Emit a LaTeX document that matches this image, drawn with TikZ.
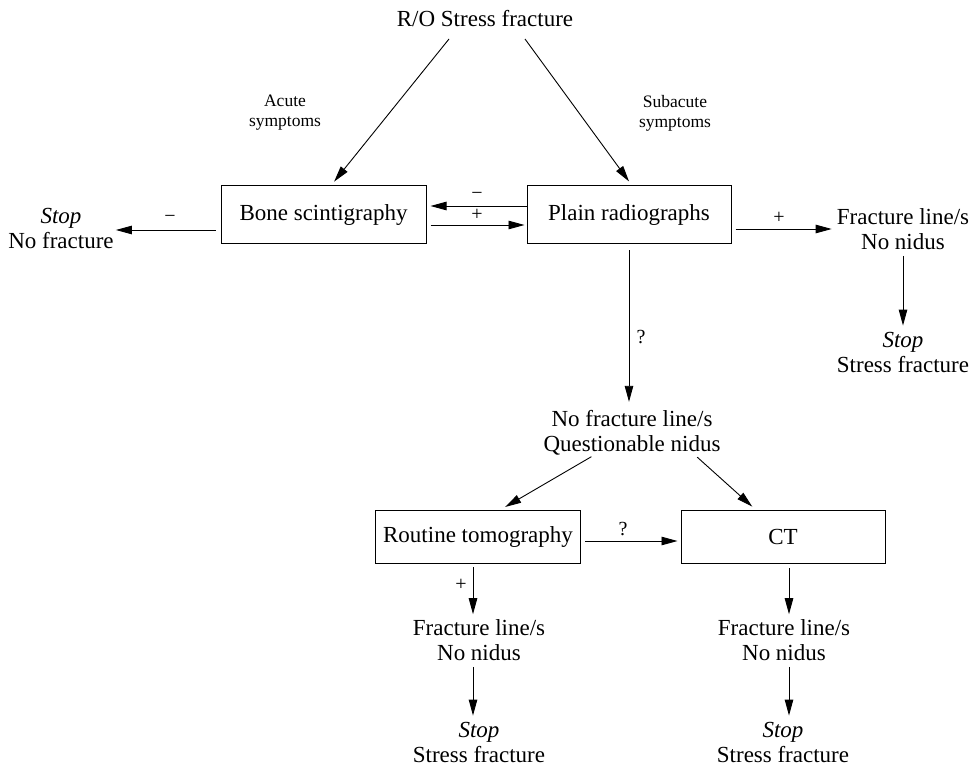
\documentclass[tikz,border=0pt]{standalone}
\usepackage{fontspec}
\setmainfont{Liberation Serif}
\usetikzlibrary{arrows.meta}
\begin{document}
\begin{tikzpicture}[x=1pt,y=-1pt,
 txt/.style={font=\fontsize{23}{25}\selectfont, align=center, inner sep=0pt},
 small/.style={font=\fontsize{17.5}{20}\selectfont, align=center, inner sep=0pt},
 sgn/.style={font=\fontsize{20}{20}\selectfont, inner sep=0pt},
 box/.style={draw, line width=1pt, font=\fontsize{23}{25}\selectfont, inner sep=0pt},
 arr/.style={-{Triangle[length=16pt,width=8.5pt]}, line width=0.9pt}]
\path[use as bounding box, fill=white] (0,0) rectangle (969,767);

\node[txt] (ro) at (485,19) {R/O Stress fracture};
\node[small] (acute) at (285,113) {Acute\\symptoms};
\node[small] (subacute) at (675,113) {Subacute\\symptoms};
\node[box, minimum width=205pt, minimum height=58pt] (bone) at (323.5,215) {Bone scintigraphy};
\node[box, minimum width=204pt, minimum height=58pt] (plain) at (629,215) {Plain radiographs};
\node[txt] (stop1) at (61,228.5) {\textit{Stop}\\No fracture};
\node[txt] (fl1) at (903,229) {Fracture line/s\\No nidus};
\node[txt] (stop2) at (903,352) {\textit{Stop}\\Stress fracture};
\node[txt] (nfl) at (632,432.5) {No fracture line/s\\Questionable nidus};
\node[box, minimum width=205pt, minimum height=53pt] (rt) at (478,537) {Routine tomography};
\node[box, minimum width=204pt, minimum height=53pt] (ct) at (783,537) {CT};
\node[txt] (fl2) at (479,640) {Fracture line/s\\No nidus};
\node[txt] (stop3) at (479,742) {\textit{Stop}\\Stress fracture};
\node[txt] (fl3) at (784,640) {Fracture line/s\\No nidus};
\node[txt] (stop4) at (783,742) {\textit{Stop}\\Stress fracture};

% sign labels
\node[sgn] (m1) at (477,196) {−};
\node[sgn] (p1) at (477,215) {+};
\node[sgn] (m2) at (170,219) {−};
\node[sgn] (p2) at (779,218) {+};
\node[sgn] (q1) at (641,337) {?};
\node[sgn] (q2) at (623,529) {?};
\node[sgn] (p3) at (461,585) {+};

% connectors
\coordinate (ro1) at (449,39);
\coordinate (ro2) at (525,39);
\draw[arr, shorten >=5pt] (ro1) -- (bone.north -| 331,0);
\draw[arr, shorten >=5pt] (ro2) -- (plain.north -| 632,0);

\draw[arr, shorten >=4pt] ([yshift=9pt]plain.west) -- ([yshift=9pt]bone.east);
\draw[arr, shorten <=4pt, shorten >=2pt] ([yshift=-10pt]bone.east) -- ([yshift=-10pt]plain.west);
\draw[arr, shorten <=5pt, shorten >=2pt] ([yshift=-15pt]bone.west) -- ([yshift=-15pt]bone.west -| stop1.east);
\draw[arr, shorten <=4pt, shorten >=5pt] ([yshift=-14pt]plain.east) -- ([yshift=-14pt]plain.east -| fl1.west);
\draw[arr, shorten <=6pt, shorten >=6pt] (fl1.south) -- (fl1.south |- stop2.north);
\draw[arr, shorten <=6pt, shorten >=8pt] (plain.south) -- (plain.south |- nfl.north);
\draw[arr, shorten <=3pt, shorten >=6pt] ([xshift=-38pt]nfl.south) -- ([xshift=22pt]rt.north);
\draw[arr, shorten <=3pt, shorten >=5pt] ([xshift=63pt]nfl.south) -- ([xshift=-27pt]ct.north);
\draw[arr, shorten <=4pt, shorten >=3pt] ([yshift=-4pt]rt.east) -- ([yshift=-4pt]rt.east -| ct.west);
\draw[arr, shorten <=3pt, shorten >=5pt] ([xshift=-5pt]rt.south) -- ([xshift=-5pt]rt.south |- fl2.north);
\draw[arr, shorten <=4pt, shorten >=5pt] ([xshift=6pt]ct.south) -- ([xshift=6pt]ct.south |- fl3.north);
\draw[arr, shorten <=6pt, shorten >=6pt] ([xshift=-6pt]fl2.south) -- ([xshift=-6pt]fl2.south |- stop3.north);
\draw[arr, shorten <=6pt, shorten >=6pt] ([xshift=5pt]fl3.south) -- ([xshift=5pt]fl3.south |- stop4.north);
\end{tikzpicture}
\end{document}
